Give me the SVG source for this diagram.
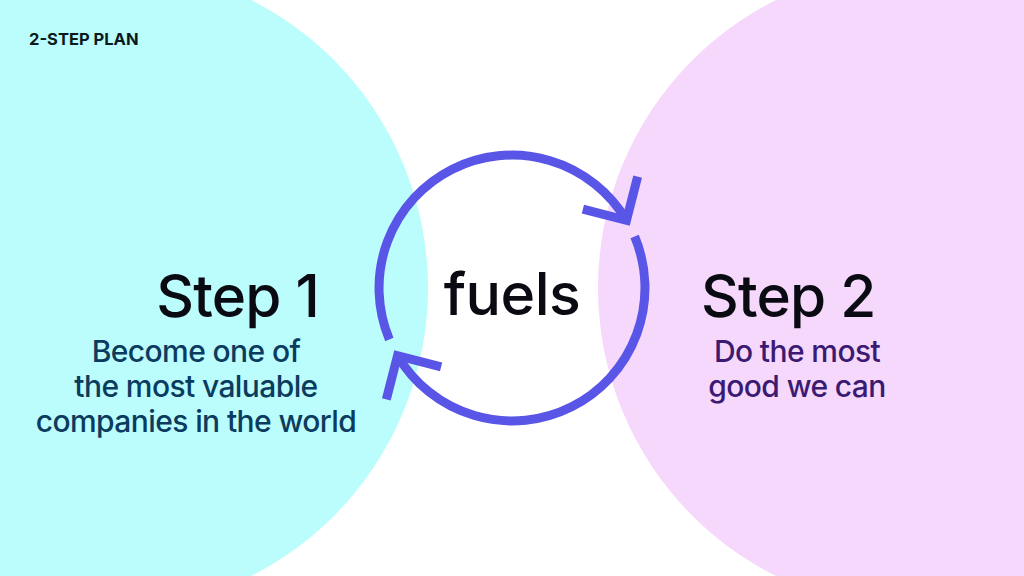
<svg xmlns="http://www.w3.org/2000/svg" width="1024" height="576" viewBox="0 0 1024 576">
  <style>
    .title { font-family: Inter, "Liberation Sans", sans-serif; font-weight: 700; font-size: 16.5px; fill: #0a1a1c; }
    .step { font-family: Inter, "Liberation Sans", sans-serif; font-weight: 500; font-size: 58.5px; fill: #0a0a12; letter-spacing: -0.8px; }
    .fuels { font-family: Inter, "Liberation Sans", sans-serif; font-weight: 500; font-size: 59px; fill: #0a0a12; letter-spacing: -0.5px; text-anchor: middle; }
    .sub1 { font-family: Inter, "Liberation Sans", sans-serif; font-weight: 500; font-size: 30px; fill: #0b3b5e; text-anchor: middle; letter-spacing: -0.6px; }
    .sub2 { font-family: Inter, "Liberation Sans", sans-serif; font-weight: 500; font-size: 30px; fill: #3a1a72; text-anchor: middle; letter-spacing: -0.6px; }
    .arrow { fill: none; stroke: #5955e6; stroke-width: 9; stroke-linecap: butt; stroke-linejoin: miter; }
  </style>
  <defs>
    <g id="cycleArrow">
      <path class="arrow" d="M389.35,339.43 A133,133 0 0 1 626.47,220.30"/>
      <path class="arrow" d="M582.89,209.11 L626.47,220.30 L637.66,176.72"/>
    </g>
  </defs>
  <rect x="0" y="0" width="1024" height="576" fill="#ffffff"/>
  <g id="backgrounds">
    <circle cx="105" cy="288" r="323" fill="#bbfcfc"/>
    <circle cx="920" cy="288" r="322" fill="#f6d8fc"/>
  </g>
  <g id="header">
    <text class="title" x="29" y="45">2-STEP PLAN</text>
  </g>
  <g id="connectors">
    <use href="#cycleArrow"/>
    <use href="#cycleArrow" transform="rotate(180 512 288)"/>
  </g>
  <g id="step1">
    <text class="step" x="319" y="317" text-anchor="end">Step 1</text>
    <text class="sub1" x="196" y="362">Become one of</text>
    <text class="sub1" x="196" y="397">the most valuable</text>
    <text class="sub1" x="196" y="432">companies in the world</text>
  </g>
  <g id="fuels">
    <text class="fuels" x="512" y="315">fuels</text>
  </g>
  <g id="step2">
    <text class="step" x="701" y="317">Step 2</text>
    <text class="sub2" x="797" y="362">Do the most</text>
    <text class="sub2" x="797" y="397">good we can</text>
  </g>
</svg>
